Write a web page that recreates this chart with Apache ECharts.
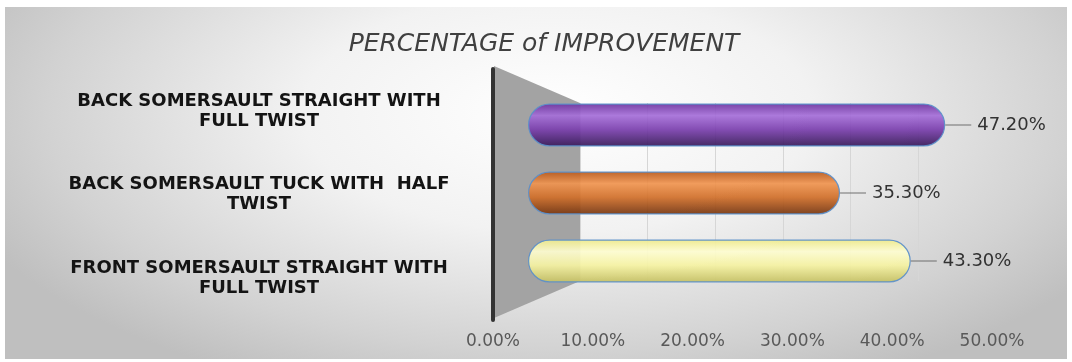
<!DOCTYPE html>
<html>
<head>
<meta charset="utf-8">
<script src="https://cdn.jsdelivr.net/npm/echarts@6/dist/echarts.min.js"></script>
<style>
  html, body { margin: 0; padding: 0; background: #ffffff; }
  #wrap { position: relative; width: 1072px; height: 362px; background: #ffffff; }
  #bg { position: absolute; left: 5px; top: 7px; width: 1062px; height: 352px;
        background: radial-gradient(ellipse 60% 85% at 52% 30%, #ffffff 0%, #f2f2f2 40%, #d2d2d2 80%, #bfbfbf 100%); }
  #chart { position: absolute; left: 0; top: 0; width: 1072px; height: 362px; }
</style>
</head>
<body>
<div id="wrap"><div id="bg"></div><div id="chart"></div></div>
<script>
// ---- data ----
var titleText = 'PERCENTAGE of IMPROVEMENT';
var categories = [
  'FRONT SOMERSAULT STRAIGHT WITH\nFULL TWIST',
  'BACK SOMERSAULT TUCK WITH  HALF\nTWIST',
  'BACK SOMERSAULT STRAIGHT WITH\nFULL TWIST'
];
var improvement = [43.3, 35.3, 47.2];
var axisMin = 0, axisMax = 50, axisStep = 10;

// ---- styles ----
function cyl(top, hi, mid, bottom) {
  return new echarts.graphic.LinearGradient(0, 0, 0, 1, [
    { offset: 0, color: top },
    { offset: 0.28, color: hi },
    { offset: 0.6, color: mid },
    { offset: 1, color: bottom }
  ]);
}
var barColors = [
  cyl('#eeea8a', '#fdfcd0', '#f5f2a2', '#c4bf62'),
  cyl('#b9591b', '#ef9450', '#d06f2a', '#753510'),
  cyl('#6e34a0', '#a56fd8', '#7b40ae', '#371a58')
];

var chart = echarts.init(document.getElementById('chart'), null, { renderer: 'canvas' });
var option = {
  backgroundColor: 'transparent',
  animation: false,
  title: {
    text: titleText, left: 539, top: 27, textAlign: 'center',
    textStyle: { fontFamily: 'DejaVu Sans', fontStyle: 'italic', fontWeight: 'normal', fontSize: 25, color: '#404040' }
  },
  graphic: [
    { type: 'polygon', z: 0, silent: true,
      shape: { points: [[494, 66], [580, 103], [580, 281], [494, 318]] },
      style: { fill: '#a3a3a3' } }
  ],
  grid: [
    { left: 528, right: 102, top: 91, bottom: 67 },
    { left: 493, right: 80, top: 69, bottom: 42 },
    { left: 580, right: 154, top: 103, bottom: 81 }
  ],
  xAxis: [
    { gridIndex: 0, type: 'value', min: axisMin, max: axisMax, interval: axisStep, show: false },
    { gridIndex: 1, type: 'value', min: axisMin, max: axisMax, interval: axisStep,
      axisLine: { show: false }, axisTick: { show: false }, splitLine: { show: false },
      axisLabel: { margin: 13, color: '#595959', fontFamily: 'DejaVu Sans', fontSize: 17,
        formatter: function (v) { return v.toFixed(2) + '%'; } } },
    { gridIndex: 2, type: 'value', min: axisMin, max: axisMax, interval: axisStep,
      axisLine: { show: false }, axisTick: { show: false }, axisLabel: { show: false },
      splitLine: { show: true, lineStyle: { color: '#d6d6d6', width: 1 } } }
  ],
  yAxis: [
    { gridIndex: 0, type: 'category', data: categories, show: false },
    { gridIndex: 1, type: 'category', data: categories,
      axisLine: { show: true, lineStyle: { color: '#333333', width: 4 } },
      axisTick: { show: false },
      axisLabel: { margin: 234, align: 'center', color: '#141414', fontFamily: 'DejaVu Sans',
        fontWeight: 'bold', fontSize: 18, lineHeight: 20 } },
    { gridIndex: 2, type: 'category', data: categories, show: false }
  ],
  series: [
    {
      type: 'bar', xAxisIndex: 0, yAxisIndex: 0, z: 3,
      barWidth: 43,
      data: improvement.map(function (v, i) {
        return { value: v, itemStyle: { color: barColors[i] } };
      }),
      itemStyle: { borderRadius: 21, borderColor: '#5b8fc9', borderWidth: 1.2, opacity: 0.93 },
      label: {
        show: true, position: 'right', distance: 0,
        formatter: function (p) { return '{l|}{v|' + p.value.toFixed(2) + '%}'; },
        rich: {
          l: { width: 26, height: 1, backgroundColor: '#666666' },
          v: { padding: [0, 0, 0, 6], color: '#262626', fontFamily: 'DejaVu Sans', fontSize: 18 }
        }
      }
    }
  ]
};
chart.setOption(option);
</script>
</body>
</html>
